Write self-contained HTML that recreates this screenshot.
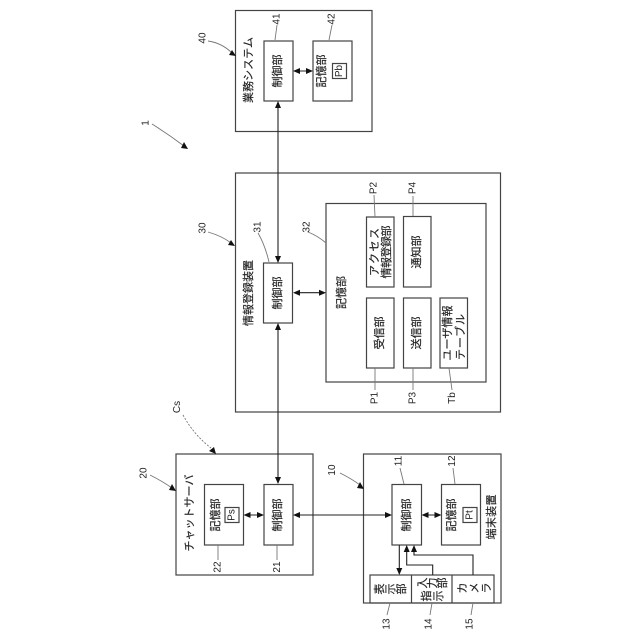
<!DOCTYPE html>
<html><head><meta charset="utf-8"><style>
html,body{margin:0;padding:0;background:#fff}
svg{display:block}
text{font-family:"Liberation Sans","Noto Sans CJK JP",sans-serif;fill:#222;text-anchor:middle;dominant-baseline:central}
.l text{font-size:11px;stroke:#222;stroke-width:.18}
.n text{font-size:10px}
.b{fill:none;stroke:#444;stroke-width:1.2}
.c{fill:none;stroke:#222;stroke-width:1.1}
.g{fill:none;stroke:#777;stroke-width:.9}
.a{fill:#111}
</style></head><body>
<svg width="640" height="640" viewBox="0 0 640 640" xmlns="http://www.w3.org/2000/svg">
<rect width="640" height="640" fill="#fff"/>
<!-- boxes -->
<rect class="b" x="235.5" y="10.5" width="136.5" height="121"/>
<rect class="b" x="264" y="41" width="29" height="60"/>
<rect class="b" x="313" y="41" width="39" height="60"/>
<rect class="b" x="332.5" y="63.5" width="14" height="15"/>
<rect class="b" x="235.5" y="173" width="265" height="239"/>
<rect class="b" x="263.5" y="263" width="29" height="60"/>
<rect class="b" x="326" y="203.5" width="160" height="178.5"/>
<rect class="b" x="366.5" y="217" width="27.5" height="70"/>
<rect class="b" x="403.5" y="216.5" width="27.5" height="70.5"/>
<rect class="b" x="366.5" y="298" width="27.5" height="70"/>
<rect class="b" x="403.5" y="298" width="27.5" height="70"/>
<rect class="b" x="440" y="298" width="27.5" height="70"/>
<rect class="b" x="176" y="454" width="137" height="121"/>
<rect class="b" x="204.5" y="484.5" width="39" height="60.5"/>
<rect class="b" x="264" y="484.5" width="29" height="60.5"/>
<rect class="b" x="225" y="507.5" width="14" height="15"/>
<rect class="b" x="363.5" y="454" width="137.5" height="149"/>
<rect class="b" x="392" y="484.5" width="29.5" height="60.5"/>
<rect class="b" x="441.5" y="484.5" width="39" height="60.5"/>
<rect class="b" x="463" y="507.5" width="14" height="15"/>
<rect class="b" x="370" y="575" width="124" height="28"/>
<path class="b" d="M411.5 575V603M452 575V603"/>
<!-- connectors -->
<path class="c" d="M278 105V259M278 327V478"/>
<path class="a" d="M278 101l-3 7h6zM278 263l-3-7h6zM278 323l-3 7h6zM278 484l-3-7h6z"/>
<path class="c" d="M297 71H309M296 292.7H322M247 515H260M297 515H388M425 515H438"/>
<path class="a" d="M293 71l7-3v6zM313 71l-7-3v6zM293 292.7l7-3v6zM326 292.7l-7-3v6zM243.5 515l7-3v6zM264 515l-7-3v6zM293 515l7-3v6zM392 515l-7-3v6zM421.5 515l7-3v6zM441.5 515l-7-3v6z"/>
<path class="c" d="M399.3 545V570M432.7 575V565H406.7V550M473 575V555H414V550"/>
<path class="a" d="M399.3 575l-3-7h6zM406.7 545l-3 7h6zM414 545l-3 7h6z"/>
<!-- leaders -->
<path class="g" d="M208 41Q222 43 232 53"/><path class="a" d="M236 56l-7-1 3-5z"/>
<path class="g" d="M152 124Q168 134 184 146"/><path class="a" d="M188 149l-7-1 3-6z"/>
<path class="g" d="M277 25L275 40M332 25L329 40"/>
<path class="g" d="M208 232Q222 236 231 243"/><path class="a" d="M235 246l-7-1 3-5z"/>
<path class="g" d="M258 233Q265 245 269 262M308 232Q318 236 326 243"/>
<path class="g" d="M374 195L375 217M413 196L413 216M375 368L375 390M413 368L413 390M449 368L452 390"/>
<path class="g" d="M150 475Q162 481 172 488"/><path class="a" d="M176 491l-7-1 3-6z"/>
<path class="g" d="M183 415Q194 435 211 448" stroke-dasharray="2 1.5"/><path class="a" d="M216 454l-7-3 5-4z"/>
<path class="g" d="M218 545V560M277 545V560"/>
<path class="g" d="M340 473Q352 479 360 485"/><path class="a" d="M364 489l-7-1 3-6z"/>
<path class="g" d="M400 468L404 484M453 468L455 484M390 603L387 615M432 603L430 615M473 603L471 615"/>
<!-- rotated labels -->
<g class="l">
<text transform="translate(249,70) rotate(-90)" textLength="66">業務システム</text>
<text transform="translate(278,71) rotate(-90)" textLength="33">制御部</text>
<text transform="translate(322,71) rotate(-90)" textLength="33">記憶部</text>
<text transform="translate(249,293) rotate(-90)" textLength="66">情報登録装置</text>
<text transform="translate(278,293) rotate(-90)" textLength="33">制御部</text>
<text transform="translate(342,292.5) rotate(-90)" textLength="33">記憶部</text>
<text transform="translate(375,252) rotate(-90)" textLength="48">アクセス</text>
<text transform="translate(387,252) rotate(-90)" textLength="53">情報登録部</text>
<text transform="translate(417,252) rotate(-90)" textLength="33">通知部</text>
<text transform="translate(380,333) rotate(-90)" textLength="33">受信部</text>
<text transform="translate(417,333) rotate(-90)" textLength="33">送信部</text>
<text transform="translate(448,333) rotate(-90)" textLength="55">ユーザ情報</text>
<text transform="translate(461,337) rotate(-90)" textLength="46">テーブル</text>
<text transform="translate(190,513) rotate(-90)" textLength="77">チャットサーバ</text>
<text transform="translate(216,515) rotate(-90)" textLength="33">記憶部</text>
<text transform="translate(278,515) rotate(-90)" textLength="33">制御部</text>
<text transform="translate(407,515) rotate(-90)" textLength="33">制御部</text>
<text transform="translate(452,515) rotate(-90)" textLength="33">記憶部</text>
<text transform="translate(492,517) rotate(-90)" textLength="45">端末装置</text>
<text transform="translate(380,589) rotate(-90)">表</text>
<text transform="translate(391,589) rotate(-90)">示</text>
<text transform="translate(402,589) rotate(-90)">部</text>
<text transform="translate(423,583) rotate(-90)">入</text>
<text transform="translate(433,583) rotate(-90)">力</text>
<text transform="translate(443,583) rotate(-90)">部</text>
<text transform="translate(427,596) rotate(-90)">指</text>
<text transform="translate(439,596) rotate(-90)">示</text>
<text transform="translate(463,588) rotate(-90)">カ</text>
<text transform="translate(475,588) rotate(-90)">メ</text>
<text transform="translate(487,588) rotate(-90)">ラ</text>
</g>
<g class="n">
<text transform="translate(339.5,71) rotate(-90)">Pb</text>
<text transform="translate(232,515) rotate(-90)">Ps</text>
<text transform="translate(470,515) rotate(-90)">Pt</text>
<text transform="translate(146,123) rotate(-90)">1</text>
<text transform="translate(203,38) rotate(-90)">40</text>
<text transform="translate(277,19) rotate(-90)">41</text>
<text transform="translate(332,19) rotate(-90)">42</text>
<text transform="translate(203,228) rotate(-90)">30</text>
<text transform="translate(258,227) rotate(-90)">31</text>
<text transform="translate(307,227) rotate(-90)">32</text>
<text transform="translate(374,188) rotate(-90)">P2</text>
<text transform="translate(413,188) rotate(-90)">P4</text>
<text transform="translate(375,398) rotate(-90)">P1</text>
<text transform="translate(413,398) rotate(-90)">P3</text>
<text transform="translate(452.7,398) rotate(-90)">Tb</text>
<text transform="translate(177.7,407) rotate(-90)">Cs</text>
<text transform="translate(144,473) rotate(-90)">20</text>
<text transform="translate(218,567) rotate(-90)">22</text>
<text transform="translate(277.7,567) rotate(-90)">21</text>
<text transform="translate(332.7,470) rotate(-90)">10</text>
<text transform="translate(399,461) rotate(-90)">11</text>
<text transform="translate(452.7,461) rotate(-90)">12</text>
<text transform="translate(387,624) rotate(-90)">13</text>
<text transform="translate(429,624) rotate(-90)">14</text>
<text transform="translate(470,624) rotate(-90)">15</text>
</g>
</svg>
</body></html>
